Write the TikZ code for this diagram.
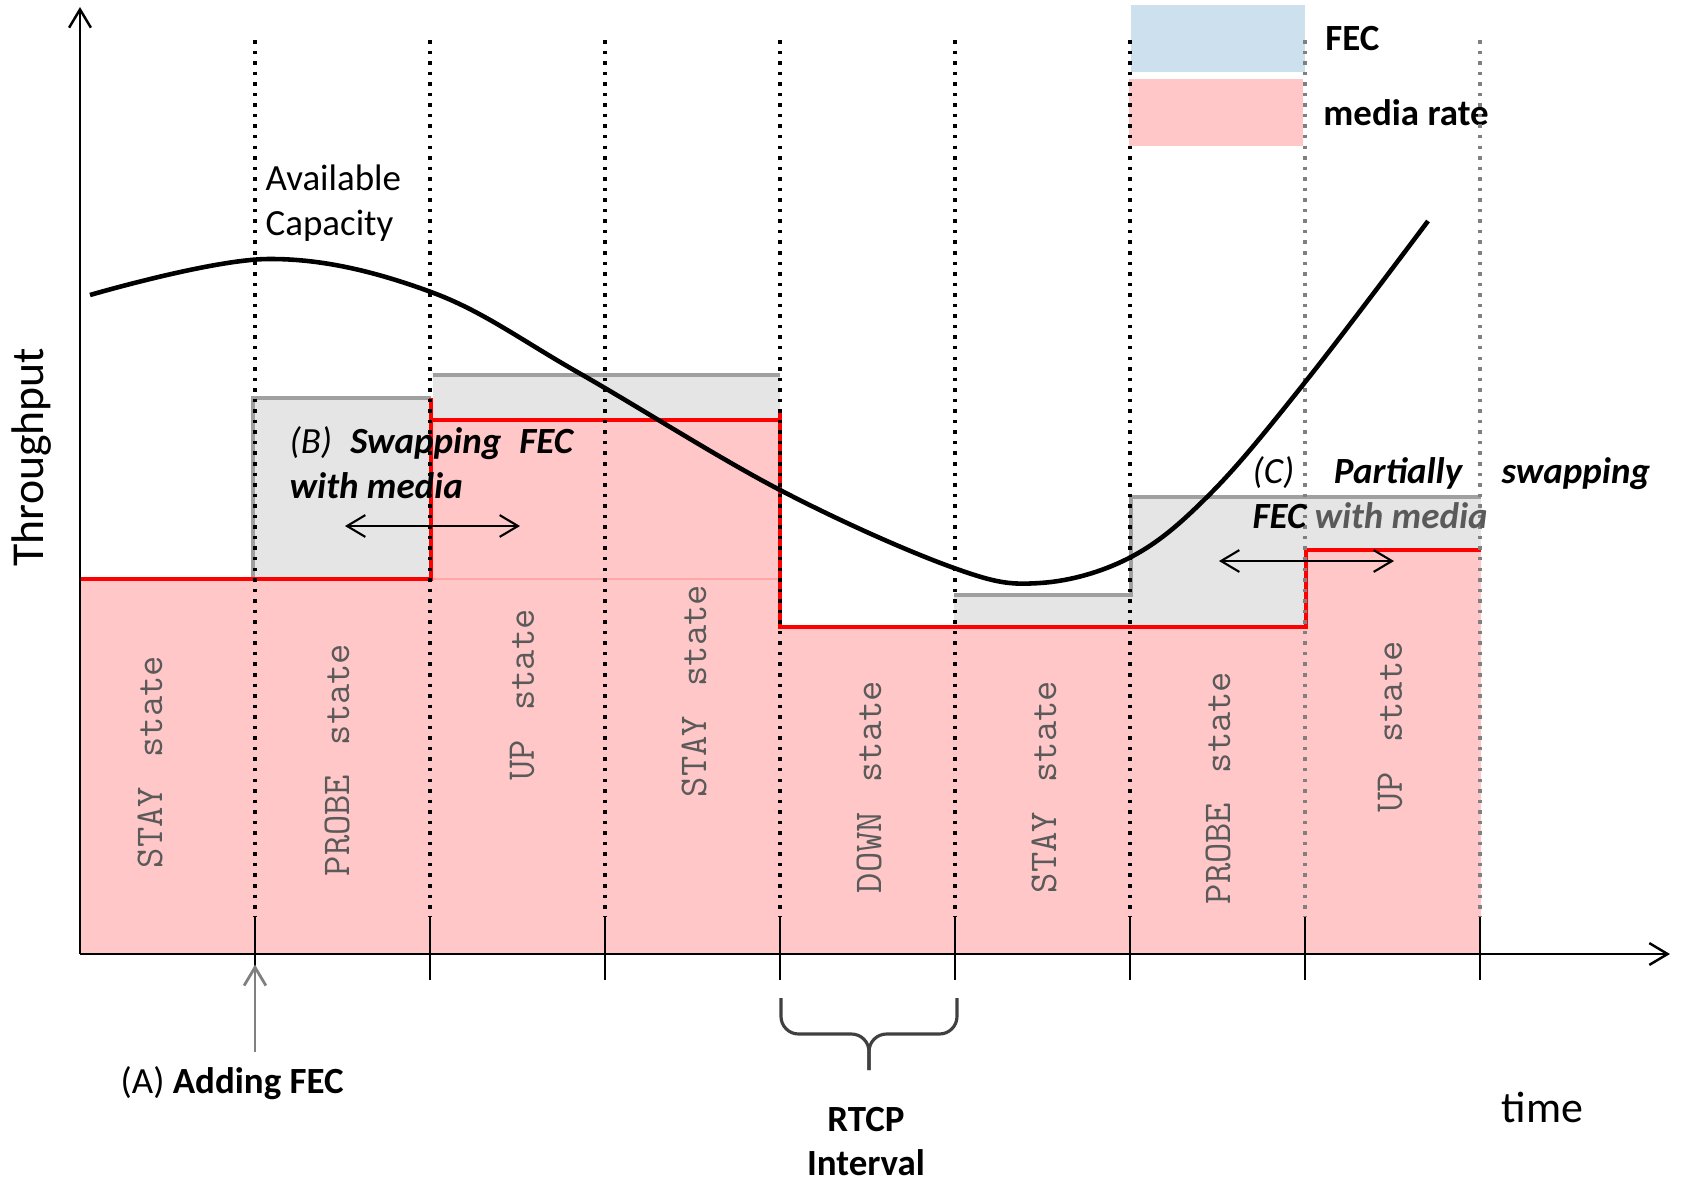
\documentclass[tikz,border=0pt]{standalone}
\usepackage{fontspec}
\setmainfont{Carlito}
\usetikzlibrary{arrows.meta, positioning}
\definecolor{mediapink}{RGB}{255,199,199}
\definecolor{fecgrey}{RGB}{229,229,229}
\definecolor{fecblue}{RGB}{205,224,238}
\definecolor{edgegrey}{RGB}{160,160,160}
\definecolor{labelgrey}{RGB}{90,90,90}
\newcommand{\statetext}[1]{#1\hspace{0.75em}state}
\tikzset{
	slot/.style={line width=1pt, dash pattern=on 1pt off 2pt},
	slottick/.style={line width=0.7pt},
	media/.style={red, line width=0.9pt},
	fecedge/.style={edgegrey, line width=0.9pt},
	statelbl/.style={rotate=90, text=labelgrey, font=\ttfamily\fontsize{11.2}{13}\selectfont},
	note/.style={anchor=base west, inner sep=0pt, font=\fontsize{10.5}{13}\selectfont},
	boldnote/.style={note, font=\bfseries\itshape\fontsize{10.5}{13}\selectfont},
	swap/.style={<->, line width=0.6pt},
	swatch/.style={minimum width=1.74cm, minimum height=0.67cm, inner sep=0pt}
}

\begin{document}
\begin{tikzpicture}[x=0.01cm, y=-0.01cm, >={Straight Barb[length=5.2pt,width=6.2pt]}]
	\useasboundingbox (0,0) rectangle (1681,1181);

	% legend
	\node[swatch, fill=fecblue] (fecbox) at (1218,38.5) {};
	\node[swatch, fill=mediapink] (mediabox) at (1216,112.5) {};
	\node[right=0.19cm of fecbox, inner sep=0pt, font=\bfseries\fontsize{10.5}{13}\selectfont] (feclbl) {FEC};
	\node[right=0.19cm of mediabox, inner sep=0pt, font=\bfseries\fontsize{10.5}{13}\selectfont] (medialbl) {media rate};

	% media rate and FEC areas
	\fill[mediapink] (80,954) -- (80,579) -- (431,579) -- (431,420) -- (780,420) -- (780,627)
		-- (1306,627) -- (1306,550) -- (1481,550) -- (1481,954) -- cycle;
	\fill[fecgrey] (253,398) rectangle (431,579);
	\fill[fecgrey] (433,375) rectangle (780,420);
	\fill[fecgrey] (954,595) rectangle (1131,627);
	\fill[fecgrey] (1131,497) rectangle (1306,627);
	\fill[fecgrey] (1306,497) rectangle (1481,550);
	\draw[fecedge] (253,579) -- (253,398) -- (431,398);
	\draw[fecedge] (433,375) -- (780,375);
	\draw[fecedge] (954,595) -- (1131,595) -- (1131,497) -- (1481,497);
	\draw[red!35, line width=0.4pt] (433,579) -- (780,579);

	\draw[media] (80,579) -- (431,579) -- (431,398);
	\draw[media] (431,420) -- (780,420);
	\draw[media] (780,412) -- (780,627) -- (1306,627) -- (1306,550) -- (1481,550);

	% RTCP slots
	\foreach \i/\col in {1/black,2/black,3/black,4/black,5/black,6/black,7/gray,8/gray}{
		\pgfmathsetmacro{\xx}{80+175*\i}
		\coordinate (t\i) at (\xx,954);
		\draw[slot, \col] (\xx,40) -- (\xx,917);
		\draw[slottick] (\xx,917) -- (\xx,980);
	}

	% axes
	\coordinate (origin) at (80,954);
	\coordinate (ytop) at (80,7);
	\coordinate (xend) at (1670,954);
	\draw[line width=0.7pt, ->] (origin) -- (ytop);
	\draw[line width=0.7pt, ->] (origin) -- (xend);
	\node[rotate=90, font=\fontsize{13}{15}\selectfont] (tput) at (32,457) {Throughput};
	\node[note, font=\fontsize{12.5}{15}\selectfont] (timelbl) at (1501,1122) {time};

	% available capacity
	\draw[line width=1.3pt] plot[smooth, tension=0.6] coordinates {(90,295) (268,259) (431,292) (579,373) (780,490) (954,568) (1040,583) (1131,557) (1211,493) (1306,381) (1428,221)};
	\node[anchor=north west, inner sep=0pt, align=left, font=\fontsize{10.5}{12.8}\selectfont] (avail) at (265,164) {Available\\Capacity};

	% states
	\foreach \x/\y/\s [count=\n] in {150/762/STAY, 337/760/PROBE, 522/695/UP, 694/691/STAY, 869/787/DOWN, 1044/787/STAY, 1218/788/PROBE, 1390/727/UP}
		\node[statelbl] (state\n) at (\x,\y) {\statetext{\s}};

	% (A)
	\node[note] (addfec) at (120,1093) {(A) \textbf{Adding FEC}};
	\coordinate (addtail) at (255,1052);
	\draw[->, gray, line width=0.8pt, shorten >=3pt] (addtail) -- (t1);

	% (B)
	\node[boldnote] (swapb) at (289,453) {\makebox[2.83cm][s]{{\mdseries(B)} Swapping FEC}};
	\node[boldnote] (swapbb) at (289,498) {with media};
	\coordinate (bleft) at (345,526);
	\coordinate (bright) at (520,526);
	\draw[swap] (bleft) -- (bright);

	% (C)
	\node[boldnote] (swapc) at (1252,483) {\makebox[3.97cm][s]{{\mdseries(C)} Partially swapping}};
	\node[boldnote] (swapcc) at (1252,528) {FEC \textcolor{labelgrey}{with media}};
	\coordinate (cleft) at (1219,561);
	\coordinate (cright) at (1394,561);
	\draw[swap] (cleft) -- (cright);

	% RTCP interval
	\draw[line width=0.9pt, darkgray, rounded corners=5pt] (781,998) -- (781,1034) -- (869,1034) -- (869,1070);
	\draw[line width=0.9pt, darkgray, rounded corners=5pt] (957,998) -- (957,1034) -- (869,1034) -- (869,1070);
	\node[anchor=north, inner sep=0pt, align=center, font=\bfseries\fontsize{10.5}{12.5}\selectfont] (rtcp) at (866,1107) {RTCP\\Interval};
\end{tikzpicture}
\end{document}
